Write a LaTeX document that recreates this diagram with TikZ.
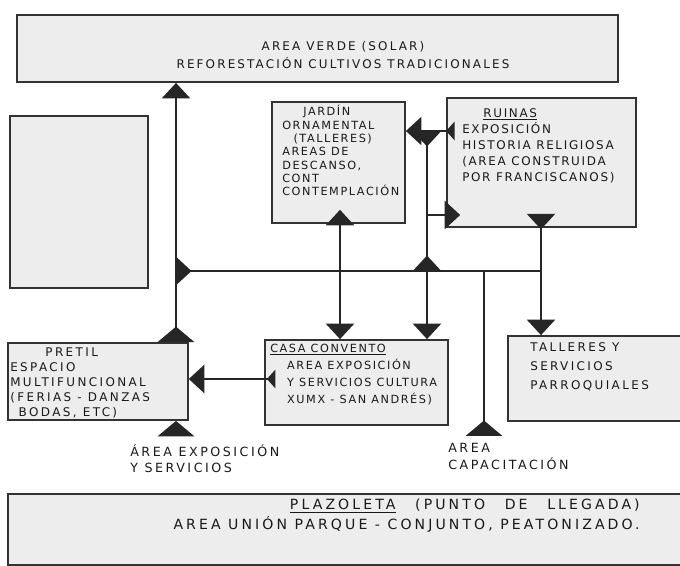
\documentclass[tikz,border=0pt]{standalone}
\usepackage{fontspec}
\setmainfont[LetterSpace=14]{DejaVu Sans}
\usetikzlibrary{arrows.meta}

\tikzset{
  zone/.style={draw=black!80, line width=1.1pt, fill=black!7, inner sep=0pt},
  note/.style={inner sep=0pt, anchor=north west, align=left, text=black!90,
    font=\fontsize{8}{11}\selectfont},
  link/.style={draw=black!85, line width=1.4pt},
  Tri/.tip={Triangle[width=20pt, length=11pt]},
  TriR/.tip={Triangle[width=20pt, length=11pt, reversed]},
  TriW/.tip={Triangle[width=26pt, length=11pt]},
  TriWR/.tip={Triangle[width=26pt, length=11pt, reversed]},
  TriS/.tip={Triangle[width=13pt, length=6pt, reversed]}
}

\begin{document}
\begin{tikzpicture}[x=0.025cm, y=-0.025cm]
  \useasboundingbox (0, 0) rectangle (680, 566);

  % Zones
  \draw (317.5, 48.5) node[zone, minimum width=15.03cm, minimum height=1.68cm] (verde) {};
  \draw (79, 202) node[zone, minimum width=3.45cm, minimum height=4.3cm] (lote) {};
  \draw (338.5, 162.5) node[zone, minimum width=3.33cm, minimum height=3.03cm] (jardin) {};
  \draw (541.5, 162.5) node[zone, minimum width=4.73cm, minimum height=3.23cm] (ruinas) {};
  \draw (98, 381.5) node[zone, minimum width=4.5cm, minimum height=1.93cm] (pretil) {};
  \draw (356.5, 382.5) node[zone, minimum width=4.58cm, minimum height=2.13cm] (casa) {};
  \draw (599, 378.5) node[zone, minimum width=4.55cm, minimum height=2.13cm] (talleres) {};
  \draw (349, 529.5) node[zone, minimum width=17.05cm, minimum height=1.78cm] (plaza) {};

  % Texts in the zones
  \draw (343, 55) node[note, anchor=center, align=center,
    font=\fontsize{8.5}{12.5}\selectfont\addfontfeature{LetterSpace=18}] (verdetxt)
    {AREA VERDE (SOLAR)\\REFORESTACIÓN CULTIVOS TRADICIONALES};
  \draw (282, 105) node[note, font=\fontsize{8}{9.5}\selectfont] (jardintxt)
    {\hspace*{15pt}JARDÍN\\ORNAMENTAL\\\hspace*{8pt}(TALLERES)\\AREAS DE\\DESCANSO,\\CONT\\CONTEMPLACIÓN};
  \draw (462, 108) node[note, font=\fontsize{8.5}{11.5}\selectfont] (ruinastxt)
    {\hspace*{15pt}\underline{RUINAS}\\EXPOSICIÓN\\HISTORIA RELIGIOSA\\(AREA CONSTRUIDA\\POR FRANCISCANOS)};
  \draw (10, 348) node[note, font=\fontsize{8.5}{10.5}\selectfont\addfontfeature{LetterSpace=20}] (pretiltxt)
    {\hspace*{25pt}PRETIL\\ESPACIO\\MULTIFUNCIONAL\\(FERIAS - DANZAS\\\hspace*{6pt}BODAS, ETC)};
  \draw (270, 344) node[note, font=\fontsize{8}{12}\selectfont] (casatxt)
    {\underline{CASA CONVENTO}\\\hspace*{12pt}AREA EXPOSICIÓN\\\hspace*{12pt}Y SERVICIOS CULTURA\\\hspace*{12pt}XUMX - SAN ANDRÉS)};
  \draw (530, 342) node[note, font=\fontsize{8.5}{13.5}\selectfont\addfontfeature{LetterSpace=20}] (tallerestxt)
    {TALLERES Y\\SERVICIOS\\PARROQUIALES};
  \draw (640, 499) node[note, anchor=north east, align=right,
    font=\fontsize{10}{14}\selectfont\addfontfeature{LetterSpace=22}] (plazatxt)
    {\underline{PLAZOLETA}\hspace{14pt}(PUNTO\hspace{14pt}DE\hspace{14pt}LLEGADA)\\AREA UNIÓN PARQUE - CONJUNTO, PEATONIZADO.};

  % Labels
  \draw (130, 444) node[note, font=\fontsize{9}{12}\selectfont\addfontfeature{LetterSpace=20}] (expo)
    {ÁREA EXPOSICIÓN\\Y SERVICIOS};
  \draw (448, 443) node[note, font=\fontsize{9}{12}\selectfont\addfontfeature{LetterSpace=20}] (capac)
    {AREA\\CAPACITACIÓN};

  % Columns and rows of the links
  \coordinate (colA) at (176, 271);
  \coordinate (colB) at (340, 271);
  \coordinate (colC) at (427, 271);
  \coordinate (colD) at (484, 271);
  \coordinate (colE) at (541, 271);
  \coordinate (rowJ) at (427, 131);
  \coordinate (rowR) at (427, 215);
  \coordinate (rowP) at (230, 379);

  % Links
  \draw[link, {TriWR}-{Tri}] (pretil.north -| colA) -- (verde.south -| colA);
  \draw[link, {TriR}-] (colA) -- (colE);
  \draw[link, {TriR}-{Tri}, shorten <=-10pt] (ruinas.south -| colE) -- (talleres.north -| colE);
  \draw[link, {Tri}-{Tri}, shorten <=-10pt] (jardin.south -| colB) -- (casa.north -| colB);
  \draw[link, {TriR}-{TriR}] (rowJ) -- (colC);
  \draw[link, -{Tri}] (colC) -- (casa.north -| colC);
  \draw[link, {TriS}-{Tri}, shorten <=-6pt] (ruinas.west |- rowJ) -- (jardin.east |- rowJ);
  \draw[link, -{Tri}, shorten >=-10pt] (rowR) -- (ruinas.west |- rowR);
  \draw[link, -{TriWR}, shorten >=5pt] (colD) -- (colD |- capac.north);
  \draw[link, {TriS}-{Tri}, shorten <=-8pt] (casa.west |- rowP) -- (pretil.east |- rowP);
  \draw[link, -{TriW}, shorten <=7pt] (expo.north -| colA) -- (pretil.south -| colA);
\end{tikzpicture}
\end{document}
